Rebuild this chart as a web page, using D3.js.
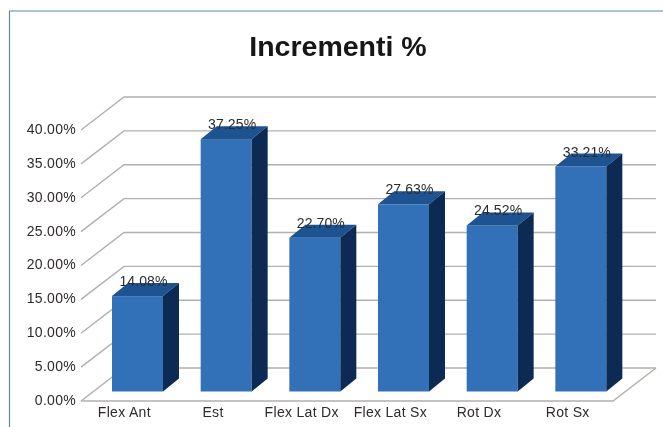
<!DOCTYPE html>
<html>
<head>
<meta charset="utf-8">
<script src="https://cdn.jsdelivr.net/npm/d3@7/dist/d3.min.js"></script>
<style>
	body { margin: 0; background: #fff; }
	svg { display: block; }
	text { font-family: "Liberation Sans", Arial, sans-serif; }
</style>
</head>
<body>
<div id="chart"></div>
<script>
// Data
var categories = ['Flex Ant', 'Est', 'Flex Lat Dx', 'Flex Lat Sx', 'Rot Dx', 'Rot Sx'];
var values = [14.08, 37.25, 22.70, 27.63, 24.52, 33.21];
var yTicks = [0, 5, 10, 15, 20, 25, 30, 35, 40];

var width = 663,
	height = 427,
	wallDx = 43,   // depth of the 3d floor
	wallDy = 33,
	barDx = 16,    // depth of each bar
	barDy = 13,
	barInset = 31,
	barWidth = 51,
	barLift = 9.5; // bars stand a little behind the front edge

var svg = d3.select('#chart').append('svg')
	.attr('width', width)
	.attr('height', height);

var x = d3.scaleBand().domain(categories).range([81, 613]);
var y = d3.scaleLinear().domain([0, 40]).range([401, 130]);

var defs = svg.append('defs');
defs.append('filter').attr('id', 'soft')
	.append('feGaussianBlur').attr('stdDeviation', 0.5);

var g = svg.append('g').attr('filter', 'url(#soft)');

// Frame, only top and left edges are in the crop
g.append('path')
	.attr('d', d3.line()([[9.5, height], [9.5, 11], [width, 11]]))
	.attr('fill', 'none')
	.attr('stroke', '#5f85ad')
	.attr('stroke-width', 1.2);

// Grid on back wall and left wall
var grid = g.append('g').attr('class', 'grid');
grid.selectAll('path')
	.data(yTicks)
	.enter().append('path')
	.attr('d', function(d) {
		return d3.line()([
			[x.range()[0], y(d)],
			[x.range()[0] + wallDx, y(d) - wallDy],
			[x.range()[1] + wallDx, y(d) - wallDy]
		]);
	})
	.attr('fill', 'none')
	.attr('stroke', '#b0b0ac')
	.attr('stroke-width', 1.4);

// Floor
g.append('path')
	.attr('d', d3.line()([
		[x.range()[0], y(0)],
		[x.range()[1], y(0)],
		[x.range()[1] + wallDx, y(0) - wallDy]
	]))
	.attr('fill', 'none')
	.attr('stroke', '#b0b0ac')
	.attr('stroke-width', 1.4);

// Bars
var bar = g.selectAll('.bar')
	.data(values)
	.enter().append('g')
	.attr('class', 'bar');

function barLeft(d, i) { return x(categories[i]) + barInset; }
function barTop(d) { return y(d) - barLift; }

// front
bar.append('rect')
	.attr('x', barLeft)
	.attr('y', barTop)
	.attr('width', barWidth)
	.attr('height', function(d) { return y(0) - barLift - barTop(d); })
	.attr('fill', '#3371b7');

// top
bar.append('path')
	.attr('d', function(d, i) {
		var l = barLeft(d, i), t = barTop(d);
		return d3.line()([[l, t], [l + barDx, t - barDy], [l + barWidth + barDx, t - barDy], [l + barWidth, t]]) + 'Z';
	})
	.attr('fill', '#1d5290');

// side
bar.append('path')
	.attr('d', function(d, i) {
		var r = barLeft(d, i) + barWidth, t = barTop(d), b = y(0) - barLift;
		return d3.line()([[r, t], [r + barDx, t - barDy], [r + barDx, b - barDy], [r, b]]) + 'Z';
	})
	.attr('fill', '#0e2c55');

// Value labels
bar.append('text')
	.attr('x', function(d, i) { return barLeft(d, i) + barWidth / 2 + 6; })
	.attr('y', function(d) { return barTop(d) - 10; })
	.attr('text-anchor', 'middle')
	.attr('font-size', 14)
	.attr('letter-spacing', 0.1)
	.attr('fill', '#2c2c30')
	.text(function(d) { return d.toFixed(2) + '%'; });

// Axes
var yAxis = d3.axisLeft(y)
	.tickValues(yTicks)
	.tickSize(0)
	.tickPadding(5)
	.tickFormat(function(d) { return d.toFixed(2) + '%'; });

var xAxis = d3.axisBottom(x).tickSize(0).tickPadding(6);

var yG = g.append('g').attr('transform', 'translate(81,-1)').call(yAxis);
var xG = g.append('g').attr('transform', 'translate(-1,401)').call(xAxis);

yG.select('.domain').remove();
xG.select('.domain').remove();
g.selectAll('.tick text')
	.attr('font-size', 14)
	.attr('letter-spacing', 0.3)
	.attr('font-family', '"Liberation Sans", Arial, sans-serif')
	.attr('fill', '#2f2a2c');

// Title
g.append('text')
	.attr('x', 338)
	.attr('y', 56)
	.attr('text-anchor', 'middle')
	.attr('font-size', 28.5)
	.attr('font-weight', 'bold')
	.attr('fill', '#161616')
	.text('Incrementi %');
</script>
</body>
</html>
